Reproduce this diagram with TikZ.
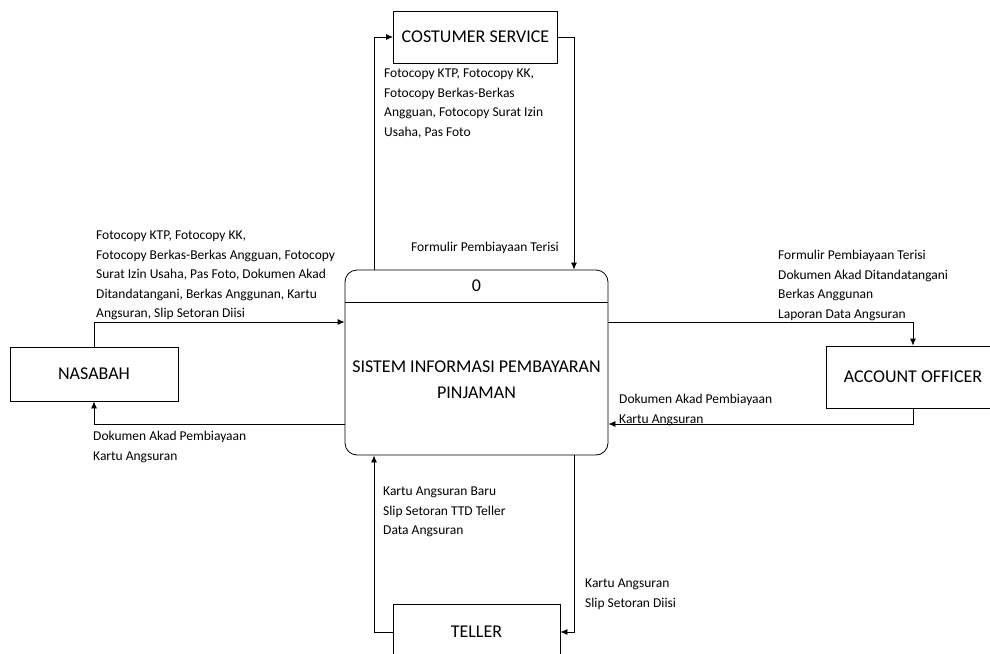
\documentclass[tikz,border=0pt]{standalone}
\usepackage{fontspec}
\setmainfont{Carlito}
\usetikzlibrary{positioning,calc,arrows.meta}
\tikzstyle{edge} = [-{Latex[length=7pt,width=6pt]}, line width=0.8pt]
\tikzstyle{entity} = [draw, line width=0.8pt, rectangle, font=\fontsize{18}{22}\selectfont]
\tikzstyle{flow} = [anchor=north west, align=left, inner sep=0pt, font=\fontsize{13.5}{19.5}\selectfont]

\begin{document}
\begin{tikzpicture}[x=1pt, y=-1pt]
\useasboundingbox[fill=white] (0,0) rectangle (990,653);
	\node[entity, minimum width=164pt, minimum height=52pt] (cs) at (475.5, 37) {COSTUMER SERVICE};
	\node[entity, minimum width=168pt, minimum height=54pt] (nasabah) at (94, 374) {NASABAH};
	\node[entity, minimum width=174pt, minimum height=62pt] (ao) at (913, 377) {ACCOUNT OFFICER};
	\node[entity, minimum width=167pt, minimum height=56pt] (teller) at (476.5, 632) {TELLER};

	% proses utama
	\node[entity, rounded corners=12pt, minimum width=263pt, minimum height=185pt] (proc) at (476.5, 362.5) {};
	\draw[line width=0.8pt] ([yshift=-32.5pt]proc.north west) -- ([yshift=-32.5pt]proc.north east);
	\node[font=\fontsize{18}{22}\selectfont] (nomor) at ([yshift=-16pt]proc.north) {0};
	\node[align=center, font=\fontsize{18}{26}\selectfont] (judul) at ([yshift=-17pt]proc.center) {SISTEM INFORMASI PEMBAYARAN\\PINJAMAN};

	\draw[edge] ([xshift=-102.5pt]proc.north) |- (cs.west);
	\draw[edge] (cs.east) -| ([xshift=97.5pt]proc.north);
	\draw[edge] (nasabah.north) |- ([yshift=40.5pt]proc.west);
	\draw[edge] ([yshift=-61.5pt]proc.west) -| (nasabah.south);
	\draw[edge] ([yshift=40.5pt]proc.east) -| (ao.north);
	\draw[edge] (ao.south) |- ([yshift=-61.5pt]proc.east);
	\draw[edge] (teller.west) -| ([xshift=-102.5pt]proc.south);
	\draw[edge] ([xshift=97.5pt]proc.south) |- (teller.east);

	\node[flow] (l-cs) at (384, 69) {Fotocopy KTP, Fotocopy KK,\\Fotocopy Berkas-Berkas\\Angguan, Fotocopy Surat Izin\\Usaha, Pas Foto};
	\node[flow] (l-form) at (411, 242) {Formulir Pembiayaan Terisi};
	\node[flow] (l-nas1) at (96, 231) {Fotocopy KTP, Fotocopy KK,\\Fotocopy Berkas-Berkas Angguan, Fotocopy\\Surat Izin Usaha, Pas Foto, Dokumen Akad\\Ditandatangani, Berkas Anggunan, Kartu\\Angsuran, Slip Setoran Diisi};
	\node[flow] (l-nas2) at (93, 431) {Dokumen Akad Pembiayaan\\Kartu Angsuran};
	\node[flow] (l-ao1) at (778, 250) {Formulir Pembiayaan Terisi\\Dokumen Akad Ditandatangani\\Berkas Anggunan\\Laporan Data Angsuran};
	\node[flow] (l-ao2) at (619, 394) {Dokumen Akad Pembiayaan\\Kartu Angsuran};
	\node[flow] (l-tel1) at (383, 487) {Kartu Angsuran Baru\\Slip Setoran TTD Teller\\Data Angsuran};
	\node[flow] (l-tel2) at (585, 579) {Kartu Angsuran\\Slip Setoran Diisi};
\end{tikzpicture}
\end{document}
